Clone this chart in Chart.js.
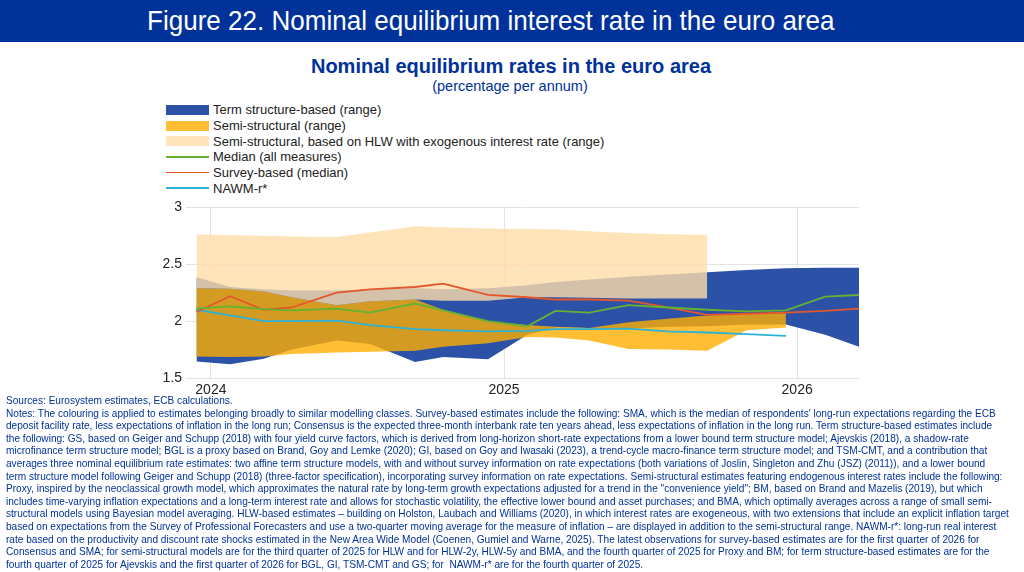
<!DOCTYPE html>
<html>
<head>
<meta charset="utf-8">
<script src="https://cdn.jsdelivr.net/npm/chart.js@4"></script>
<style>
  html, body { margin:0; padding:0; background:#fff; }
  body { width:1024px; height:572px; position:relative; overflow:hidden; font-family:"Liberation Sans", Arial, sans-serif; }
  #banner { position:absolute; left:0; top:0; width:1024px; height:42px; background:#003299; }
  #title { position:absolute; left:147px; top:5px; color:#fff; font-size:28px; white-space:nowrap; transform:scaleX(0.93); transform-origin:0 0; }
  #sub1 { position:absolute; left:0; width:1022px; top:55px; text-align:center; color:#003299; font-weight:bold; font-size:20px; white-space:nowrap; }
  #sub2 { position:absolute; left:0; width:1020px; top:78px; text-align:center; color:#003299; font-size:14.5px; white-space:nowrap; }
  #legend { position:absolute; left:166px; top:102px; }
  .li { height:15.7px; display:flex; align-items:center; font-size:13px; color:#222; white-space:nowrap; }
  .sw { width:43px; margin-right:4px; flex:none; }
  #wrap { position:absolute; left:130px; top:195px; width:760px; height:210px; }
  #notes { position:absolute; left:6px; top:395px; color:#003299; font-size:10.1px; line-height:12.6px; }
  #notes div { white-space:nowrap; }
</style>
</head>
<body>
<div id="banner"></div>
<div id="title">Figure 22. Nominal equilibrium interest rate in the euro area</div>
<div id="sub1">Nominal equilibrium rates in the euro area</div>
<div id="sub2">(percentage per annum)</div>
<div id="legend"></div>
<div id="wrap"><canvas id="c" width="760" height="210"></canvas></div>
<div id="notes">
<div>Sources: Eurosystem estimates, ECB calculations.</div>
<div>Notes: The colouring is applied to estimates belonging broadly to similar modelling classes. Survey-based estimates include the following: SMA, which is the median of respondents' long-run expectations regarding the ECB</div>
<div>deposit facility rate, less expectations of inflation in the long run; Consensus is the expected three-month interbank rate ten years ahead, less expectations of inflation in the long run. Term structure-based estimates include</div>
<div>the following: GS, based on Geiger and Schupp (2018) with four yield curve factors, which is derived from long-horizon short-rate expectations from a lower bound term structure model; Ajevskis (2018), a shadow-rate</div>
<div>microfinance term structure model; BGL is a proxy based on Brand, Goy and Lemke (2020); GI, based on Goy and Iwasaki (2023), a trend-cycle macro-finance term structure model; and TSM-CMT, and a contribution that</div>
<div>averages three nominal equilibrium rate estimates: two affine term structure models, with and without survey information on rate expectations (both variations of Joslin, Singleton and Zhu (JSZ) (2011)), and a lower bound</div>
<div>term structure model following Geiger and Schupp (2018) (three-factor specification), incorporating survey information on rate expectations. Semi-structural estimates featuring endogenous interest rates include the following:</div>
<div>Proxy, inspired by the neoclassical growth model, which approximates the natural rate by long-term growth expectations adjusted for a trend in the "convenience yield"; BM, based on Brand and Mazelis (2019), but which</div>
<div>includes time-varying inflation expectations and a long-term interest rate and allows for stochastic volatility, the effective lower bound and asset purchases; and BMA, which optimally averages across a range of small semi-</div>
<div>structural models using Bayesian model averaging. HLW-based estimates – building on Holston, Laubach and Williams (2020), in which interest rates are exogeneous, with two extensions that include an explicit inflation target</div>
<div>based on expectations from the Survey of Professional Forecasters and use a two-quarter moving average for the measure of inflation – are displayed in addition to the semi-structural range. NAWM-r*: long-run real interest</div>
<div>rate based on the productivity and discount rate shocks estimated in the New Area Wide Model (Coenen, Gumiel and Warne, 2025). The latest observations for survey-based estimates are for the first quarter of 2026 for</div>
<div>Consensus and SMA; for semi-structural models are for the third quarter of 2025 for HLW and for HLW-2y, HLW-5y and BMA, and the fourth quarter of 2025 for Proxy and BM; for term structure-based estimates are for the</div>
<div>fourth quarter of 2025 for Ajevskis and the first quarter of 2026 for BGL, GI, TSM-CMT and GS; for &nbsp;NAWM-r* are for the fourth quarter of 2025.</div>
</div>
<script>
// ---- Data ----
const dates = ['2023-12-14','2024-01-25','2024-03-07','2024-04-11','2024-06-06','2024-07-18','2024-09-12','2024-10-17','2024-12-12',
               '2025-01-30','2025-03-06','2025-04-17','2025-06-05','2025-07-24','2025-09-11','2025-10-30','2025-12-18',
               '2026-02-05','2026-03-19'];
const termUpper = [2.385, 2.30, 2.28, 2.27, 2.27, 2.28, 2.29, 2.28, 2.29, 2.315, 2.345, 2.365, 2.39, 2.41, 2.43, 2.45, 2.465, 2.47, 2.47];
const termLower = [1.645, 1.62, 1.67, 1.75, 1.83, 1.80, 1.64, 1.685, 1.665, 1.88, 1.945, 1.94, 1.935, 1.95, 1.955, 1.97, 1.97, 1.88, 1.775];
const semiUpper = [2.29, 2.285, 2.26, 2.21, 2.14, 2.175, 2.19, 2.10, 2.00, 1.965, 1.95, 1.94, 1.99, 2.02, 2.05, 2.07, 2.07];
const semiLower = [1.69, 1.685, 1.69, 1.71, 1.725, 1.73, 1.74, 1.775, 1.805, 1.86, 1.855, 1.83, 1.755, 1.75, 1.74, 1.92, 1.945];
const hlwUpper  = [2.765, 2.755, 2.75, 2.745, 2.74, 2.78, 2.835, 2.825, 2.815, 2.81, 2.807, 2.79, 2.775, 2.765, 2.76];
const hlwLower  = [2.29, 2.285, 2.26, 2.21, 2.14, 2.175, 2.19, 2.18, 2.18, 2.21, 2.21, 2.205, 2.20, 2.20, 2.20];
const medianAll = [2.11, 2.13, 2.105, 2.095, 2.11, 2.075, 2.155, 2.095, 2.00, 1.955, 2.09, 2.075, 2.14, 2.12, 2.10, 2.085, 2.095, 2.215, 2.23];
const surveyMed = [2.08, 2.22, 2.10, 2.12, 2.25, 2.28, 2.30, 2.33, 2.23, 2.21, 2.19, 2.19, 2.18, 2.12, 2.055, 2.065, 2.075, 2.09, 2.11];
const nawm      = [2.10, 2.05, 2.00, 2.00, 2.005, 1.965, 1.93, 1.92, 1.91, 1.915, 1.93, 1.93, 1.935, 1.91, 1.90, 1.885, 1.87];
const xTickYears = [2024, 2025, 2026];
const yTicks = [1.5, 2, 2.5, 3];
const xStart = '2023-12-01', xEnd = '2026-03-19';

const seriesNames = {
  term: 'Term structure-based (range)',
  semi: 'Semi-structural (range)',
  hlw: 'Semi-structural, based on HLW with exogenous interest rate (range)',
  median: 'Median (all measures)',
  survey: 'Survey-based (median)',
  nawm: 'NAWM-r*'
};

function decYear(s){
  const [y,m,d] = s.split('-').map(Number);
  const t = Date.UTC(y,m-1,d), a = Date.UTC(y,0,1), b = Date.UTC(y+1,0,1);
  return y + (t-a)/(b-a);
}
const xs = dates.map(decYear);
const pts = arr => arr.map((v,i) => ({x: xs[i], y: v}));

const C = {
  blue: 'rgb(44,82,168)',
  orange: 'rgba(255,174,0,0.8)',
  pale: 'rgba(255,221,169,0.8)',
  green: '#63b232',
  red: '#e4572b',
  cyan: '#2cb2d8'
};

const lineDs = (label, arr, color) => ({label, data: pts(arr), borderColor: color, backgroundColor: color, borderWidth: 1.8, pointRadius: 0, fill: false, tension: 0});
const bandUp = (label, arr, color) => ({label, data: pts(arr), borderColor: 'transparent', borderWidth: 0, backgroundColor: color, pointRadius: 0, fill: '+1', tension: 0});
const bandLo = (arr) => ({label: '', data: pts(arr), borderColor: 'transparent', borderWidth: 0, pointRadius: 0, fill: false, tension: 0});

const datasets = [
  lineDs(seriesNames.median, medianAll, C.green),
  lineDs(seriesNames.survey, surveyMed, C.red),
  lineDs(seriesNames.nawm, nawm, C.cyan),
  bandUp(seriesNames.hlw, hlwUpper, C.pale),
  bandLo(hlwLower),
  bandUp(seriesNames.semi, semiUpper, C.orange),
  bandLo(semiLower),
  bandUp(seriesNames.term, termUpper, C.blue),
  bandLo(termLower)
];

const gridColor = '#e3e3e3';
const chart = new Chart(document.getElementById('c'), {
  type: 'line',
  data: { datasets },
  options: {
    responsive: false,
    animation: false,
    events: [],
    layout: { padding: { left: 16, right: 31, top: 12, bottom: 5 } },
    plugins: { legend: { display: false }, tooltip: { enabled: false } },
    scales: {
      x: {
        type: 'linear',
        min: decYear(xStart), max: decYear(xEnd),
        afterBuildTicks: s => { s.ticks = xTickYears.map(v => ({value: v})); },
        afterFit: s => { s.height = 22; },
        grid: { color: gridColor, drawTicks: false, lineWidth: 1 },
        border: { display: true, color: gridColor },
        ticks: { padding: 4, color: '#222', font: { family: 'Liberation Sans', size: 14 }, callback: v => String(v), maxRotation: 0 }
      },
      y: {
        min: 1.5, max: 3,
        afterBuildTicks: s => { s.ticks = yTicks.map(v => ({value: v})); },
        afterFit: s => { s.width = 40; },
        grid: { color: gridColor, drawTicks: false, lineWidth: 1 },
        border: { display: false },
        ticks: { padding: 4, color: '#222', font: { family: 'Liberation Sans', size: 14 }, callback: v => String(v) }
      }
    }
  }
});

// HTML legend built from the chart's datasets
const legendOrder = [seriesNames.term, seriesNames.semi, seriesNames.hlw, seriesNames.median, seriesNames.survey, seriesNames.nawm];
const lg = document.getElementById('legend');
legendOrder.forEach(name => {
  const ds = chart.data.datasets.find(d => d.label === name);
  const row = document.createElement('div'); row.className = 'li';
  const sw = document.createElement('div'); sw.className = 'sw';
  if (ds.fill) { sw.style.height = '10px'; sw.style.background = ds.backgroundColor; }
  else { sw.style.height = '1.6px'; sw.style.background = ds.borderColor; }
  const tx = document.createElement('span'); tx.textContent = name;
  row.appendChild(sw); row.appendChild(tx); lg.appendChild(row);
});
</script>
</body>
</html>
